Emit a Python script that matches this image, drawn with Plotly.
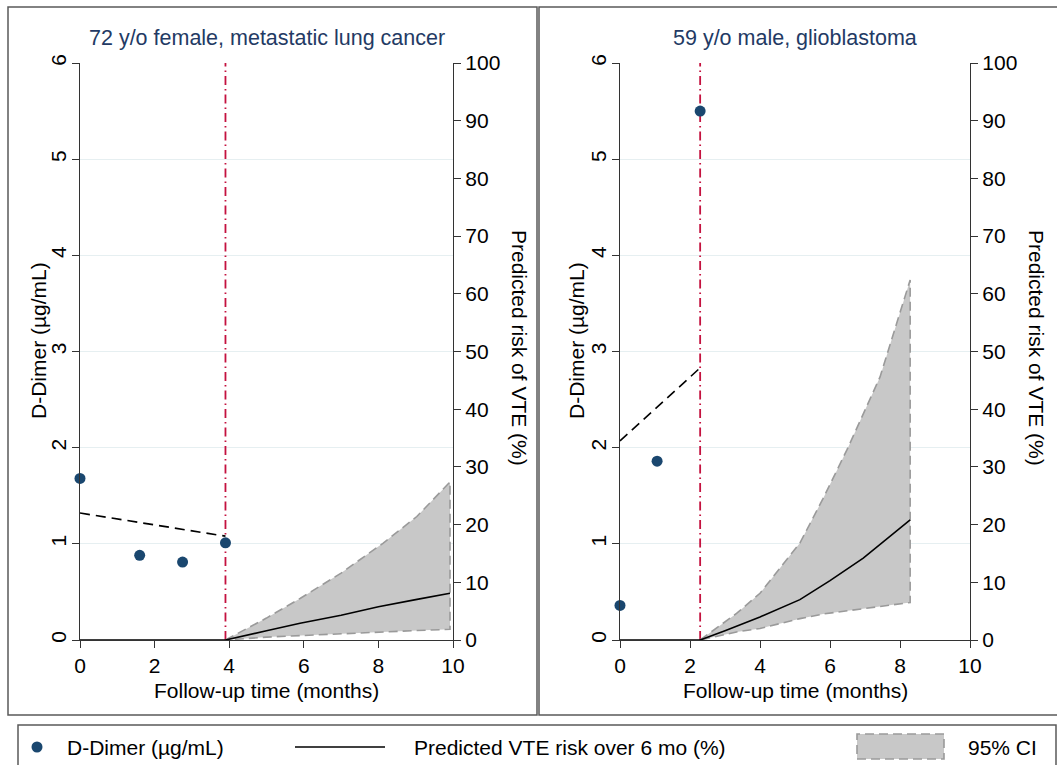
import plotly.graph_objects as go

# ---------------- data ----------------
panel_titles = ["72 y/o female, metastatic lung cancer", "59 y/o male, glioblastoma"]

# Panel 1
p1_dd_t = [0, 1.6, 2.75, 3.9]
p1_dd = [1.68, 0.88, 0.81, 1.01]
p1_trend_t = [0, 3.9]
p1_trend = [1.32, 1.08]
p1_t0 = 3.9
p1_risk_t = [0, 3.9, 5, 5.9, 7, 8, 9, 9.92]
p1_risk = [0, 0, 1.6, 2.9, 4.3, 5.75, 7.0, 8.1]
p1_ci_t = [3.9, 5, 5.9, 7, 8.13, 9.03, 9.92]
p1_ci_hi = [0, 3.8, 7.2, 11.6, 16.8, 21.4, 27.4]
p1_ci_lo = [0, 0.5, 0.87, 1.15, 1.4, 1.65, 1.85]

# Panel 2
p2_dd_t = [0, 1.06, 2.29]
p2_dd = [0.36, 1.86, 5.5]
p2_trend_t = [0, 2.29]
p2_trend = [2.07, 2.83]
p2_t0 = 2.29
p2_risk_t = [0, 2.29, 3.0, 4.0, 5.14, 6.0, 6.95, 8.29]
p2_risk = [0, 0, 1.6, 4.0, 7.0, 10.3, 14.2, 20.8]
p2_ci_t = [2.29, 3.33, 4.0, 5.14, 5.8, 6.48, 7.43, 8.29]
p2_ci_hi = [0, 4.6, 8.1, 16.8, 24.5, 32.9, 45.6, 62.4]
p2_ci_lo = [0, 1.4, 2.0, 3.7, 4.5, 5.0, 5.8, 6.5]

x_ticks = [0, 2, 4, 6, 8, 10]
dd_ticks = [0, 1, 2, 3, 4, 5, 6]
risk_ticks = [0, 10, 20, 30, 40, 50, 60, 70, 80, 90, 100]

legend_labels = ["D-Dimer (µg/mL)", "Predicted VTE risk over 6 mo (%)", "95% CI"]
x_title = "Follow-up time (months)"
yl_title = "D-Dimer (µg/mL)"
yr_title = "Predicted risk of VTE (%)"

# ---------------- style ----------------
W, H = 1057, 765
FONT = "Liberation Sans, Arial, sans-serif"
FS = 21
NAVY = "#1a476f"
TITLE_C = "#233a64"
RED = "#c4123f"
CI_FILL = "#c8c8c8"
CI_LINE = "#9a9a9a"
AX = "#333333"
GRID = "#e6eff1"
FRAME = "#5a5a5a"


def px(x):
    return x / W


def py(y):
    return 1 - y / H


panels = [
    dict(dd_t=p1_dd_t, dd=p1_dd, tr_t=p1_trend_t, tr=p1_trend, t0=p1_t0,
         r_t=p1_risk_t, r=p1_risk, ci_t=p1_ci_t, hi=p1_ci_hi, lo=p1_ci_lo,
         xa="x", ya="y", yb="y2"),
    dict(dd_t=p2_dd_t, dd=p2_dd, tr_t=p2_trend_t, tr=p2_trend, t0=p2_t0,
         r_t=p2_risk_t, r=p2_risk, ci_t=p2_ci_t, hi=p2_ci_hi, lo=p2_ci_lo,
         xa="x2", ya="y3", yb="y4"),
]

fig = go.Figure()
for p in panels:
    # CI band
    fig.add_trace(go.Scatter(
        x=p["ci_t"] + p["ci_t"][::-1], y=p["hi"] + p["lo"][::-1],
        xaxis=p["xa"], yaxis=p["yb"], mode="lines", fill="toself",
        fillcolor=CI_FILL, line=dict(color=CI_LINE, width=1.6, dash="9px,5px"),
        showlegend=False, hoverinfo="skip"))
    # predicted risk
    fig.add_trace(go.Scatter(
        x=p["r_t"], y=p["r"], xaxis=p["xa"], yaxis=p["yb"], mode="lines",
        line=dict(color="black", width=1.6),
        showlegend=False, cliponaxis=False))
    # dashed trend
    fig.add_trace(go.Scatter(
        x=p["tr_t"], y=p["tr"], xaxis=p["xa"], yaxis=p["ya"], mode="lines",
        line=dict(color="black", width=1.6, dash="10px,6px"), showlegend=False))
    # vertical red line
    fig.add_trace(go.Scatter(
        x=[p["t0"], p["t0"]], y=[0, 6], xaxis=p["xa"], yaxis=p["ya"], mode="lines",
        line=dict(color=RED, width=1.8, dash="9px,4px,1.5px,4px"), showlegend=False))
    # D-dimer markers
    fig.add_trace(go.Scatter(
        x=p["dd_t"], y=p["dd"], xaxis=p["xa"], yaxis=p["ya"], mode="markers",
        marker=dict(color=NAVY, size=11), showlegend=False, cliponaxis=False))

xdom1 = [px(80), px(453)]
xdom2 = [px(620), px(970)]
ydom = [py(640), py(63)]

common_x = dict(range=[0, 10], tickvals=x_ticks, showline=True, linecolor=AX,
                linewidth=1.3, ticks="outside", ticklen=7, tickcolor=AX,
                showgrid=False, zeroline=False, automargin=False,
                tickfont=dict(size=FS, color="black"))
common_yl = dict(range=[0, 6], tickvals=dd_ticks, tickangle=-90, showline=True,
                 linecolor=AX, linewidth=1.3, ticks="outside", ticklen=7,
                 tickcolor=AX, showgrid=True, gridcolor=GRID, gridwidth=1,
                 zeroline=False, automargin=False, ticklabelstandoff=-3,
                 tickfont=dict(size=FS, color="black"), domain=ydom)
common_yr = dict(range=[0, 100], tickvals=risk_ticks, side="right", showline=True,
                 linecolor=AX, linewidth=1.3, ticks="outside", ticklen=7,
                 tickcolor=AX, showgrid=False, zeroline=False, automargin=False,
                 tickfont=dict(size=FS, color="black"))

fig.update_layout(
    width=W, height=H, margin=dict(l=0, r=0, t=0, b=0, pad=0), autosize=False,
    paper_bgcolor="white", plot_bgcolor="white",
    font=dict(family=FONT, size=FS, color="black"),
    xaxis=dict(domain=xdom1, anchor="y", **common_x),
    yaxis=dict(anchor="x", **common_yl),
    yaxis2=dict(anchor="x", overlaying="y", **common_yr),
    xaxis2=dict(domain=xdom2, anchor="y3", **common_x),
    yaxis3=dict(anchor="x2", **common_yl),
    yaxis4=dict(anchor="x2", overlaying="y3", **common_yr),
)

shapes = []
ann = []
# panel frames
shapes.append(dict(type="rect", xref="paper", yref="paper", x0=px(8), x1=px(537),
                   y0=py(715), y1=py(7), line=dict(color=FRAME, width=1.5)))
shapes.append(dict(type="rect", xref="paper", yref="paper", x0=px(539), x1=px(1058),
                   y0=py(715), y1=py(7), line=dict(color=FRAME, width=1.5)))
# legend frame
shapes.append(dict(type="rect", xref="paper", yref="paper", x0=px(18), x1=px(1056),
                   y0=py(768), y1=py(725), line=dict(color=FRAME, width=1.5)))

centers = [(80 + 453) / 2, (620 + 970) / 2]
ylx = [38, 576]
yrx = [519, 1036]
for i in range(2):
    ann.append(dict(text=panel_titles[i], x=px(centers[i]), y=py(38), xref="paper",
                    yref="paper", showarrow=False, xanchor="center", yanchor="middle",
                    font=dict(size=21.5, color=TITLE_C)))
    ann.append(dict(text=x_title, x=px(centers[i]), y=py(690), xref="paper",
                    yref="paper", showarrow=False, xanchor="center", yanchor="middle",
                    font=dict(size=FS)))
    ann.append(dict(text=yl_title, x=px(ylx[i]), y=py(341), xref="paper",
                    yref="paper", showarrow=False, xanchor="center", yanchor="middle",
                    textangle=-90, font=dict(size=FS)))
    ann.append(dict(text=yr_title, x=px(yrx[i]), y=py(348), xref="paper",
                    yref="paper", showarrow=False, xanchor="center", yanchor="middle",
                    textangle=90, font=dict(size=FS)))

# legend items
LY = 747
shapes.append(dict(type="circle", xref="paper", yref="paper", x0=px(31.5), x1=px(42.5),
                   y0=py(LY + 5.5), y1=py(LY - 5.5), fillcolor=NAVY, line=dict(width=0)))
ann.append(dict(text=legend_labels[0], x=px(65), y=py(LY), xref="paper", yref="paper",
                showarrow=False, xanchor="left", yanchor="middle", font=dict(size=FS)))
shapes.append(dict(type="line", xref="paper", yref="paper", x0=px(295), x1=px(385),
                   y0=py(LY), y1=py(LY), line=dict(color="black", width=1.6)))
ann.append(dict(text=legend_labels[1], x=px(412), y=py(LY), xref="paper", yref="paper",
                showarrow=False, xanchor="left", yanchor="middle", font=dict(size=FS)))
shapes.append(dict(type="rect", xref="paper", yref="paper", x0=px(857), x1=px(944),
                   y0=py(759), y1=py(734), fillcolor=CI_FILL,
                   line=dict(color=CI_LINE, width=1.6, dash="9px,5px")))
ann.append(dict(text=legend_labels[2], x=px(966), y=py(LY), xref="paper", yref="paper",
                showarrow=False, xanchor="left", yanchor="middle", font=dict(size=FS)))

fig.update_layout(shapes=shapes, annotations=ann)
fig.write_html(
    "out.html",
    config={"displayModeBar": False},
    post_script="document.body.style.margin='0';document.body.style.overflow='hidden';",
)
